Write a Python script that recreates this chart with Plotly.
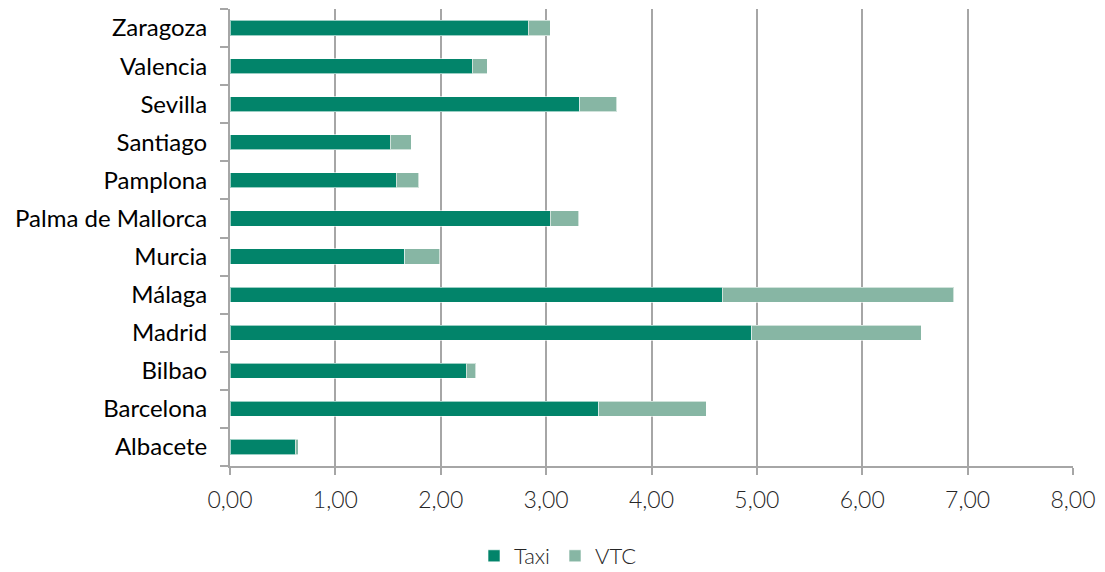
import plotly.graph_objects as go

# Cities listed bottom-to-top as drawn on the category axis
ciudades = ["Albacete", "Barcelona", "Bilbao", "Madrid", "Málaga", "Murcia",
            "Palma de Mallorca", "Pamplona", "Santiago", "Sevilla", "Valencia", "Zaragoza"]
taxi = [0.62, 3.50, 2.24, 4.95, 4.67, 1.66, 3.04, 1.58, 1.52, 3.32, 2.30, 2.83]
vtc = [0.03, 1.02, 0.09, 1.61, 2.20, 0.33, 0.27, 0.21, 0.20, 0.35, 0.14, 0.21]
x_ticks = [0, 1, 2, 3, 4, 5, 6, 7, 8]
x_tick_labels = ["0,00", "1,00", "2,00", "3,00", "4,00", "5,00", "6,00", "7,00", "8,00"]

VERDE = "#02846A"
VERDE_CLARO = "#87B6A4"
GRIS = "#A6A6A6"

fig = go.Figure()
fig.add_trace(go.Bar(
    y=ciudades, x=taxi, name="Taxi", orientation="h",
    marker=dict(color=VERDE, line=dict(color="rgba(255,255,255,0.6)", width=1)),
))
fig.add_trace(go.Bar(
    y=ciudades, x=vtc, name="VTC", orientation="h",
    marker=dict(color=VERDE_CLARO, line=dict(color="rgba(255,255,255,0.6)", width=1)),
))

fig.update_layout(
    barmode="stack",
    bargap=0.6,
    width=1105, height=572,
    margin=dict(l=230, r=32, t=9, b=106, autoexpand=False),
    plot_bgcolor="white",
    paper_bgcolor="white",
    showlegend=True,
    legend=dict(
        orientation="h",
        xref="container", yref="paper",
        x=0.505, xanchor="center",
        y=-0.151, yanchor="top",
        font=dict(family="Lato, sans-serif", size=22, color="#262626", weight=300),
        traceorder="normal",
        itemwidth=30,
    ),
    xaxis=dict(
        range=[0, 8],
        tickvals=x_ticks,
        ticktext=x_tick_labels,
        showgrid=True, gridcolor=GRIS, gridwidth=1.5,
        showline=True, linecolor=GRIS, linewidth=2,
        ticks="outside", ticklen=7, tickcolor=GRIS, tickwidth=1.5,
        tickfont=dict(family="Lato, sans-serif", size=23, color="#262626", weight=300),
        ticklabelstandoff=5,
        zeroline=False,
        fixedrange=True,
    ),
    yaxis=dict(
        categoryorder="array", categoryarray=ciudades,
        showgrid=False,
        showline=True, linecolor=GRIS, linewidth=2,
        ticks="outside", tickson="boundaries", ticklen=8, tickcolor=GRIS, tickwidth=1.5,
        tickfont=dict(family="Lato, sans-serif", size=24, color="#000000"),
        ticklabelstandoff=16,
        fixedrange=True,
    ),
)

fig.write_html("out.html")
